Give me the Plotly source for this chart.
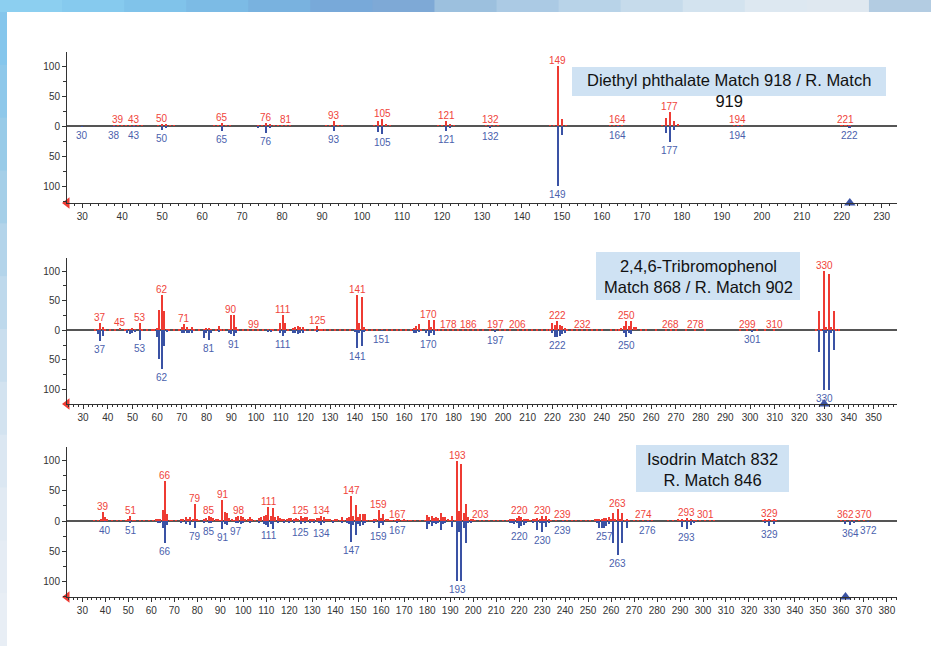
import plotly.graph_objects as go

W, H = 931, 646

# ---------------- DATA ----------------
# Panel 1: Diethyl phthalate
p1_title = "Diethyl phthalate Match 918 / R. Match<br>919"
p1_sample = {38: 0.8, 39: 1.5, 40: 0.8, 41: 1, 42: 0.8, 43: 1.5, 44: 0.8, 45: 0.8, 49: 1, 50: 4, 51: 2,
             52: 0.8, 53: 0.8, 63: 0.8, 64: 1, 65: 5, 66: 1, 67: 0.8, 74: 1, 75: 1, 76: 5, 77: 3, 78: 1,
             79: 0.8, 80: 0.8, 81: 1.5, 82: 0.8, 91: 1, 92: 1, 93: 9, 94: 1, 95: 0.8, 103: 1, 104: 8,
             105: 11, 106: 2, 107: 1, 119: 1, 120: 1, 121: 8, 122: 3, 123: 1, 131: 0.8, 132: 1.5,
             133: 0.8, 134: 0.8, 147: 0.8, 148: 1, 149: 100, 150: 12, 151: 1, 162: 0.8, 163: 0.8,
             164: 1.5, 165: 0.8, 175: 1, 176: 13, 177: 23, 178: 8, 179: 2, 193: 0.8, 194: 1.5,
             195: 0.8, 220: 0.8, 221: 1.5, 222: 0.8}
p1_library = {30: 1, 38: 1, 43: 1, 50: 6, 51: 2, 65: 9, 74: 2, 76: 12, 77: 4, 93: 9, 104: 10, 105: 13,
              121: 9, 122: 3, 132: 3, 149: 100, 150: 15, 164: 1, 176: 11, 177: 26, 178: 7, 194: 1,
              222: 2}
p1_sample_labels = [39, 43, 50, 65, 76, 81, 93, 105, 121, 132, 149, 164, 177, 194, 221]
p1_library_labels = [30, 38, 43, 50, 65, 76, 93, 105, 121, 132, 149, 164, 177, 194, 222]
p1_selected = 222
p1_xrange = [26.2, 233.8]

# Panel 2: 2,4,6-Tribromophenol
p2_title = "2,4,6-Tribromophenol<br>Match 868 / R. Match 902"
p2_sample = {35: 1, 36: 2, 37: 13, 38: 6, 39: 1, 41: 1, 43: 1, 45: 4, 47: 1, 48: 2, 49: 3, 50: 4, 51: 1,
             53: 13, 54: 1, 56: 1, 58: 1, 59: 1, 60: 4, 61: 34, 62: 59, 63: 32, 64: 2, 65: 1, 67: 1,
             69: 1, 70: 5, 71: 10, 72: 6, 73: 3, 74: 6, 75: 1, 77: 1, 79: 3, 80: 4, 81: 4, 82: 2,
             84: 2, 85: 8, 86: 2, 87: 1, 89: 3, 90: 25, 91: 25, 92: 5, 93: 1, 95: 1, 97: 1, 99: 1,
             101: 1, 103: 1, 105: 2, 106: 2, 107: 2, 109: 1, 110: 12, 111: 26, 112: 13, 113: 2,
             115: 4, 116: 5, 117: 7, 118: 5, 119: 5, 120: 3, 122: 1, 124: 3, 125: 7, 126: 3, 127: 2,
             128: 2, 130: 2, 132: 1, 134: 1, 136: 1, 138: 1, 140: 3, 141: 60, 142: 13, 143: 57,
             144: 5, 145: 2, 147: 1, 149: 1, 151: 1, 153: 1, 155: 1, 157: 1, 159: 1, 161: 1, 163: 1,
             164: 4, 165: 7, 166: 10, 167: 2, 169: 3, 170: 17, 171: 5, 172: 18, 173: 2, 174: 2,
             176: 1, 178: 1, 180: 1, 182: 1, 184: 1, 186: 1, 188: 1, 190: 1, 192: 1, 195: 1, 197: 1,
             199: 1, 201: 1, 203: 1, 206: 1, 208: 1, 210: 1, 212: 1, 214: 1, 216: 1, 218: 1, 219: 3,
             220: 13, 221: 9, 222: 15, 223: 9, 224: 7, 225: 4, 226: 1, 228: 1, 230: 1, 232: 1,
             234: 1, 236: 1, 238: 1, 240: 1, 244: 1, 246: 1, 247: 2, 248: 4, 249: 7, 250: 16, 251: 8,
             252: 16, 253: 5, 254: 5, 256: 1, 258: 1, 262: 1, 266: 1, 268: 1, 270: 1, 274: 1,
             278: 1, 282: 1, 296: 1, 299: 1, 301: 1, 303: 1, 306: 1, 310: 1, 327: 2, 328: 33,
             329: 3, 330: 100, 331: 5, 332: 95, 333: 6, 334: 33, 335: 3, 336: 1}
p2_library = {36: 7, 37: 18, 38: 9, 48: 4, 49: 6, 50: 5, 51: 3, 53: 17, 60: 11, 61: 48, 62: 65, 63: 27,
              64: 2, 70: 4, 71: 5, 72: 5, 73: 4, 74: 4, 79: 13, 80: 5, 81: 17, 82: 4, 85: 3, 89: 4,
              90: 6, 91: 10, 92: 4, 105: 2, 106: 3, 110: 5, 111: 9, 112: 4, 115: 4, 116: 5, 117: 6,
              118: 5, 119: 4, 125: 3, 140: 2, 141: 30, 142: 5, 143: 27, 144: 3, 151: 1, 164: 4,
              165: 5, 166: 3, 169: 4, 170: 10, 171: 5, 172: 8, 197: 3, 220: 4, 221: 12, 222: 12,
              223: 10, 224: 6, 225: 4, 249: 4, 250: 11, 251: 5, 252: 6, 301: 2, 328: 36, 330: 100,
              331: 5, 332: 100, 333: 4, 334: 33}
p2_sample_labels = [37, 45, 53, 62, 71, 90, 99, 111, 125, 141, 170, 178, 186, 197, 206, 222, 232, 250,
                    268, 278, 299, 310, 330]
p2_library_labels = [37, 53, 62, 81, 91, 111, 141, 151, 170, 197, 222, 250, 301, 330]
p2_selected = 330
p2_xrange = [23.5, 359.5]

# Panel 3: Isodrin
p3_title = "Isodrin Match 832<br>R. Match 846"
p3_sample = {35: 1, 37: 1, 38: 2, 39: 15, 40: 7, 41: 2, 43: 1, 45: 1, 47: 1, 49: 1, 50: 3, 51: 8, 52: 1,
             53: 1, 55: 1, 57: 1, 59: 1, 61: 1, 62: 2, 63: 3, 64: 4, 65: 18, 66: 66, 67: 12, 68: 1,
             69: 1, 71: 1, 73: 3, 74: 4, 75: 6, 76: 4, 77: 7, 78: 3, 79: 28, 80: 3, 81: 1, 83: 4,
             84: 5, 85: 8, 86: 7, 87: 5, 88: 3, 89: 4, 90: 1, 91: 35, 92: 15, 93: 14, 94: 5, 95: 3,
             96: 1, 97: 6, 98: 9, 99: 8, 100: 6, 101: 4, 102: 3, 103: 6, 104: 3, 105: 1, 107: 5,
             108: 6, 109: 8, 110: 10, 111: 23, 112: 8, 113: 22, 114: 7, 115: 9, 116: 5, 117: 2,
             118: 3, 119: 4, 120: 5, 121: 5, 122: 4, 123: 5, 124: 2, 125: 8, 126: 5, 127: 6, 128: 6,
             129: 4, 130: 3, 131: 3, 132: 5, 133: 5, 134: 8, 135: 6, 136: 3, 137: 3, 138: 3, 139: 1,
             140: 3, 141: 4, 142: 1, 143: 6, 144: 1, 145: 5, 146: 7, 147: 41, 148: 8, 149: 26,
             150: 6, 151: 12, 152: 11, 153: 11, 154: 1, 155: 1, 156: 1, 157: 3, 158: 4, 159: 18,
             160: 5, 161: 11, 162: 4, 163: 3, 164: 1, 165: 1, 166: 1, 167: 2, 168: 2, 169: 1, 170: 2,
             171: 1, 172: 1, 173: 1, 175: 1, 177: 1, 179: 1, 180: 10, 181: 6, 182: 9, 183: 5, 184: 6,
             185: 5, 186: 13, 187: 6, 188: 6, 189: 3, 190: 1, 191: 8, 192: 1, 193: 100, 194: 16,
             195: 95, 196: 14, 197: 29, 198: 7, 199: 4, 200: 3, 201: 1, 203: 1, 205: 1, 207: 1,
             209: 1, 211: 1, 213: 1, 215: 1, 216: 2, 217: 3, 218: 4, 219: 5, 220: 9, 221: 6, 222: 4,
             223: 4, 224: 3, 225: 1, 226: 2, 227: 3, 228: 5, 229: 4, 230: 8, 231: 4, 232: 8, 233: 3,
             234: 1, 236: 1, 239: 1, 241: 1, 243: 1, 245: 1, 247: 1, 249: 1, 251: 1, 253: 2, 254: 3,
             255: 4, 256: 4, 257: 5, 258: 5, 259: 7, 260: 3, 261: 14, 262: 3, 263: 20, 264: 2,
             265: 13, 266: 1, 267: 4, 268: 1, 270: 1, 272: 1, 274: 1, 276: 1, 278: 1, 285: 1, 287: 1,
             289: 2, 290: 1, 291: 3, 292: 1, 293: 5, 294: 1, 295: 3, 296: 1, 297: 1, 299: 1, 301: 1,
             303: 1, 305: 1, 326: 1, 327: 2, 328: 1, 329: 3, 330: 1, 331: 2, 332: 1, 360: 1, 362: 1.5,
             364: 1, 366: 1, 368: 1, 370: 1.5}
p3_library = {40: 1, 51: 2, 63: 2, 64: 3, 65: 11, 66: 37, 67: 6, 73: 3, 75: 5, 77: 6, 79: 11, 83: 2,
              85: 4, 86: 3, 91: 13, 92: 5, 93: 6, 97: 4, 98: 3, 99: 5, 100: 3, 103: 3, 107: 3, 109: 5,
              110: 6, 111: 10, 112: 5, 113: 13, 115: 3, 118: 2, 120: 2, 122: 2, 125: 5, 127: 4,
              129: 3, 131: 2, 133: 4, 134: 7, 135: 4, 139: 2, 143: 3, 145: 4, 146: 5, 147: 35, 148: 6,
              149: 24, 150: 5, 151: 8, 152: 6, 153: 4, 157: 2, 159: 11, 160: 3, 161: 7, 167: 2,
              180: 14, 181: 5, 182: 9, 183: 4, 184: 5, 185: 4, 186: 15, 187: 5, 188: 3, 191: 10,
              193: 100, 194: 18, 195: 100, 196: 12, 197: 37, 198: 4, 199: 3, 216: 2, 217: 3, 218: 5,
              219: 4, 220: 11, 221: 8, 222: 6, 223: 4, 226: 2, 228: 15, 229: 4, 230: 19, 231: 3,
              232: 10, 233: 2, 239: 1, 254: 3, 255: 11, 256: 11, 257: 12, 258: 9, 259: 5, 261: 37,
              263: 57, 265: 37, 267: 12, 276: 1, 291: 10, 293: 14, 295: 7, 296: 3, 327: 4, 329: 8,
              331: 5, 362: 5, 364: 6, 366: 3, 372: 1}
p3_sample_labels = [39, 51, 66, 79, 85, 91, 98, 111, 125, 134, 147, 159, 167, 193, 203, 220, 230, 239,
                    263, 274, 293, 301, 329, 362, 370]
p3_library_labels = [40, 51, 66, 79, 85, 91, 97, 111, 125, 134, 147, 159, 167, 193, 220, 230, 239, 257,
                     263, 276, 293, 329, 364, 372]
p3_selected = 362
p3_xrange = [23.3, 384.4]

ytick_vals = [-100, -50, 0, 50, 100]
ytick_text = ["100", "50", "0", "50", "100"]

# ---------------- STYLE ----------------
RED = "#ee3b33"
RED_TXT = "#f0443a"
BLUE = "#3a52a4"
BLUE_TXT = "#4a5fad"
AXIS = "#333333"
BOX = "#cfe2f3"
FONT = "Liberation Sans, Arial, Helvetica, sans-serif"


def px(x):
    return x / W


def py(y):
    return 1 - y / H


panels = [
    dict(sample=p1_sample, library=p1_library, sl=p1_sample_labels, ll=p1_library_labels,
         sel=p1_selected, xr=p1_xrange, title=p1_title, top=52, bottom=203, zero=126, h100=66,
         box=(572, 67, 886, 96), tcenter=(729, 90.5), bw=0.42),
    dict(sample=p2_sample, library=p2_library, sl=p2_sample_labels, ll=p2_library_labels,
         sel=p2_selected, xr=p2_xrange, title=p2_title, top=258, bottom=404, zero=330.3, h100=271,
         box=(596, 252, 800, 300), tcenter=(698, 276), bw=0.6),
    dict(sample=p3_sample, library=p3_library, sl=p3_sample_labels, ll=p3_library_labels,
         sel=p3_selected, xr=p3_xrange, title=p3_title, top=447, bottom=597, zero=521, h100=460.7,
         box=(636, 445, 789, 492), tcenter=(712.5, 469.5), bw=0.62),
]

fig = go.Figure()
shapes = []
annotations = []
layout_axes = {}

X0, X1 = 67, 897

for i, p in enumerate(panels):
    sfx = "" if i == 0 else str(i + 1)
    xa, ya = "x" + sfx, "y" + sfx
    scale = (p["zero"] - p["h100"]) / 100.0
    ymax = (p["zero"] - p["top"]) / scale
    ymin = -(p["bottom"] - p["zero"]) / scale

    s_mz = list(p["sample"].keys())
    s_v = [p["sample"][m] for m in s_mz]
    l_mz = list(p["library"].keys())
    l_v = [-p["library"][m] for m in l_mz]

    fig.add_trace(go.Bar(x=s_mz, y=s_v, width=p["bw"], marker=dict(color=RED, line=dict(width=0)),
                         xaxis=xa, yaxis=ya, showlegend=False))
    fig.add_trace(go.Bar(x=l_mz, y=l_v, width=p["bw"], marker=dict(color=BLUE, line=dict(width=0)),
                         xaxis=xa, yaxis=ya, showlegend=False))

    # peak labels (anchored on the bar tips)
    for mz in p["sl"]:
        annotations.append(dict(xref=xa, yref=ya, x=mz, y=p["sample"].get(mz, 0), text=str(mz),
                                showarrow=False, xanchor="center", yanchor="bottom", yshift=-2,
                                font=dict(color=RED_TXT, size=10, family=FONT)))
    for mz in p["ll"]:
        annotations.append(dict(xref=xa, yref=ya, x=mz, y=-p["library"].get(mz, 0), text=str(mz),
                                showarrow=False, xanchor="center", yanchor="top", yshift=-1,
                                font=dict(color=BLUE_TXT, size=10, family=FONT)))

    # selected-mass marker and left arrow
    fig.add_trace(go.Scatter(x=[p["sel"]], y=[ymin], mode="markers",
                             marker=dict(symbol="triangle-up", size=10, color=BLUE),
                             cliponaxis=False, xaxis=xa, yaxis=ya, showlegend=False))
    fig.add_trace(go.Scatter(x=[p["xr"][0]], y=[ymin], mode="markers",
                             marker=dict(symbol="triangle-left", size=10, color=RED),
                             cliponaxis=False, xaxis=xa, yaxis=ya, showlegend=False))

    layout_axes["xaxis" + sfx] = dict(
        domain=[px(X0), px(X1)], range=p["xr"], anchor=ya, showline=True, linecolor=AXIS,
        linewidth=1, ticks="outside", ticklen=4, tickcolor=AXIS, tick0=0, dtick=10,
        minor=dict(dtick=2, ticks="outside", ticklen=2, tickcolor=AXIS),
        showgrid=False, zeroline=False, tickfont=dict(size=10, color=AXIS, family=FONT),
        fixedrange=True)
    layout_axes["yaxis" + sfx] = dict(
        domain=[py(p["bottom"]), py(p["top"])], range=[ymin, ymax], anchor=xa, showline=True,
        linecolor=AXIS, linewidth=1, ticks="outside", ticklen=4, tickcolor=AXIS,
        tickvals=ytick_vals, ticktext=ytick_text,
        minor=dict(dtick=25, ticks="outside", ticklen=3, tickcolor=AXIS),
        showgrid=False, zeroline=True, zerolinecolor="#555555", zerolinewidth=2,
        tickfont=dict(size=10, color=AXIS, family=FONT), fixedrange=True)

    bx0, by0, bx1, by1 = p["box"]
    shapes.append(dict(type="rect", xref="paper", yref="paper", x0=px(bx0), x1=px(bx1),
                       y0=py(by1), y1=py(by0), fillcolor=BOX, line=dict(width=0), layer="below"))
    annotations.append(dict(xref="paper", yref="paper", x=px(p["tcenter"][0]), y=py(p["tcenter"][1]),
                            text=p["title"], showarrow=False, xanchor="center", yanchor="middle",
                            align="center", font=dict(size=16.5, color="#111111", family=FONT)))

# decorative background strips (gradient approximation)
top_cols = ["#8ccff0", "#86caee", "#80c3ea", "#7cbbe5", "#79b2df", "#78a9d9", "#7ea9d6", "#9cc0de",
            "#abcae4", "#b8d3e8", "#c6dbeb", "#d3e3ef", "#dde8f1", "#dfe8f0", "#b3cce2"]
n = len(top_cols)
for k, c in enumerate(top_cols):
    shapes.append(dict(type="rect", xref="paper", yref="paper", x0=k / n, x1=(k + 1) / n + 0.001,
                       y0=py(12), y1=1, fillcolor=c, line=dict(width=0), layer="below"))
left_cols = ["#85c6ec", "#8ec8ea", "#98cbe8", "#a5cfe8", "#b3d4ea", "#bed9ec", "#c9deee", "#d3e3f0",
             "#dbe7f2", "#e1eaf3", "#e5ecf4", "#e8eef5"]
m = len(left_cols)
for k, c in enumerate(left_cols):
    y0 = 12 + (H - 12) * k / m
    y1 = 12 + (H - 12) * (k + 1) / m
    shapes.append(dict(type="rect", xref="paper", yref="paper", x0=0, x1=px(7),
                       y0=py(y1 + 1), y1=py(y0), fillcolor=c, line=dict(width=0), layer="below"))

fig.update_layout(
    width=W, height=H, margin=dict(l=0, r=0, t=0, b=0), paper_bgcolor="white",
    plot_bgcolor="rgba(0,0,0,0)", barmode="overlay", bargap=0, showlegend=False,
    font=dict(family=FONT), shapes=shapes, annotations=annotations, **layout_axes)

fig.write_html("out.html", config=dict(displayModeBar=False),
               post_script="document.body.style.margin='0px';document.body.style.overflow='hidden';")
